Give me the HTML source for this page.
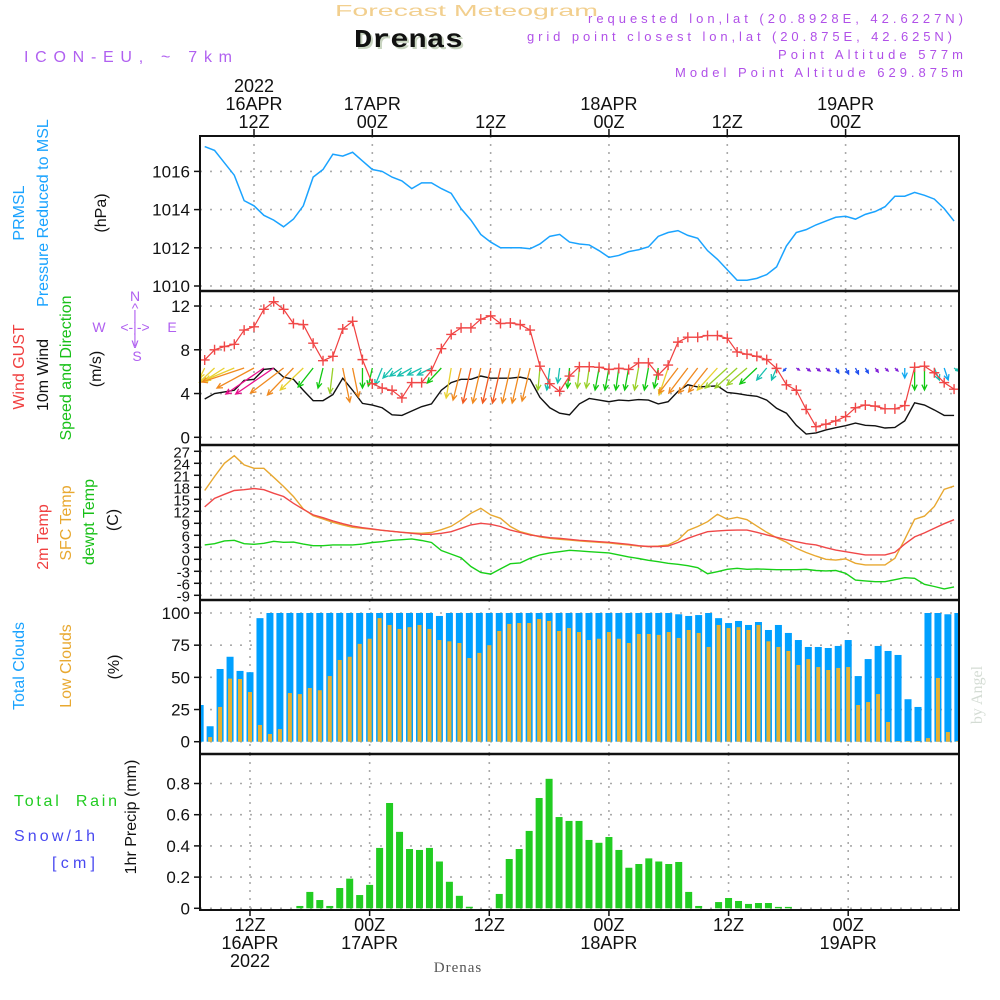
<!DOCTYPE html>
<html><head><meta charset="utf-8">
<style>
html,body{margin:0;padding:0;background:#fff;}
svg{display:block;}
text{font-family:"Liberation Sans",sans-serif;}
</style></head>
<body>
<svg id="chart" xmlns="http://www.w3.org/2000/svg" width="1000" height="1000" viewBox="0 0 1000 1000">
<rect x="0" y="0" width="1000" height="1000" fill="#fff"/>
<text x="335" y="16" textLength="263" lengthAdjust="spacingAndGlyphs" font-size="16" fill="#f2cf8e">Forecast Meteogram</text>
<text x="356" y="49" textLength="109" lengthAdjust="spacingAndGlyphs" font-size="26" font-weight="bold" fill="#c8d4c0" style="font-family:'Liberation Mono',monospace">Drenas</text>
<text x="354" y="47" textLength="109" lengthAdjust="spacingAndGlyphs" font-size="26" font-weight="bold" fill="#111" style="font-family:'Liberation Mono',monospace">Drenas</text>
<text x="24" y="62" textLength="208" lengthAdjust="spacing" font-size="16" fill="#b060f0">ICON-EU, ~ 7km</text>
<text x="588" y="23" textLength="375" lengthAdjust="spacing" font-size="13" fill="#b050e8">requested lon,lat (20.8928E, 42.6227N)</text>
<text x="527" y="41" textLength="425" lengthAdjust="spacing" font-size="13" fill="#b050e8">grid point closest lon,lat (20.875E, 42.625N)</text>
<text x="778" y="59" textLength="185" lengthAdjust="spacing" font-size="13" fill="#b050e8">Point Altitude 577m</text>
<text x="675" y="77" textLength="288" lengthAdjust="spacing" font-size="13" fill="#b050e8">Model Point Altitude 629.875m</text>
<text x="458" y="972" text-anchor="middle" font-size="15" fill="#555" style="font-family:'Liberation Serif',serif;letter-spacing:1px">Drenas</text>
<text transform="translate(982,695) rotate(-90)" text-anchor="middle" font-size="16" fill="#d4dcd4" style="font-family:'Liberation Serif',serif">by Angel</text>
</svg>
<script>
// ---------- data (hourly, 07Z 16APR .. 11Z 19APR; hour offset from 00Z 16APR) ----------
const hourStart = 7;
const pressure = [1017.3,1017.1,1016.45,1015.8,1014.47,1014.2,1013.7,1013.45,1013.1,1013.5,1014.2,1015.7,1016.1,1016.9,1016.8,1017.0,1016.55,1016.1,1016.0,1015.7,1015.5,1015.1,1015.4,1015.4,1015.1,1014.85,1014.05,1013.45,1012.7,1012.3,1012.0,1012.0,1012.0,1011.95,1012.2,1012.6,1012.7,1012.3,1012.2,1012.15,1011.85,1011.5,1011.6,1011.8,1011.9,1012.05,1012.6,1012.8,1012.9,1012.65,1012.5,1011.85,1011.4,1010.85,1010.3,1010.3,1010.4,1010.6,1011.0,1012.1,1012.8,1012.95,1013.2,1013.4,1013.6,1013.65,1013.5,1013.75,1013.9,1014.15,1014.7,1014.7,1014.9,1014.75,1014.55,1014.05,1013.4];
const gust = [7.07,8.0,8.3,8.5,9.8,10.1,11.7,12.4,11.7,10.4,10.3,8.6,7.0,7.4,9.9,10.6,7.1,4.9,4.5,4.3,3.6,5.0,5.0,6.1,8.1,9.4,10.0,10.0,10.8,11.1,10.4,10.45,10.3,9.8,6.5,4.9,4.2,5.6,6.45,6.45,6.4,6.2,6.3,6.2,6.8,6.8,5.7,6.6,8.7,9.15,9.15,9.3,9.3,9.05,7.8,7.6,7.4,7.1,6.3,4.8,4.3,2.55,0.97,1.2,1.5,1.9,2.7,2.95,2.85,2.6,2.6,2.9,6.4,6.5,5.9,5.0,4.4];
const wind10 = [3.5,4.0,4.15,4.3,5.2,5.3,6.2,6.3,5.5,5.3,4.3,3.35,3.35,3.9,5.4,4.3,3.1,2.95,2.7,2.05,2.0,2.4,2.8,3.05,4.3,5.0,5.3,5.3,5.6,5.4,5.4,5.4,5.5,5.3,3.65,2.7,2.2,2.05,3.05,3.55,3.4,3.25,3.4,3.35,3.45,3.4,3.05,3.25,4.2,4.8,4.6,4.65,4.7,4.1,4.0,3.85,3.75,3.4,2.65,2.2,1.1,0.3,0.4,0.67,0.88,1.06,1.3,1.1,1.05,0.85,0.9,1.5,3.15,2.95,2.5,2.0,2.0];
// wind arrow vector components (eastward, northward) in arrow units
const windU = [-5,-15,-22,-29,-42,-37,-38,-38,-33,-26,-23,-15,-5,-3,7,6,0,-4,-7,-9,-12,-14,-14,-14,-14,-5,-8,-8,-8,-8,-8,-8,-8,-8,-2,-3,-2,-2,-2,-3,-4,-4,-3,-4,-4,-4,-4,-9,-19,-19,-19,-19,-20,-22,-22,-20,-17,-10,-5,-3,3,4,4,4,3,3,3,3,3,3,3,0,0,0,5,4,4];
const windV = [-10,-14,-14,-12,-14,-20,-26,-26,-25,-27,-22,-19,-20,-25,-34,-29,-20,-18,-17,-10,-8,-8,-7,-7,-15,-30,-32,-35,-35,-35,-35,-35,-35,-33,-22,-22,-15,-20,-20,-20,-22,-22,-22,-22,-22,-22,-20,-27,-25,-25,-25,-24,-22,-20,-20,-17,-16,-12,-12,-3,-2,-3,-3,-3,-5,-6,-6,-5,-4,-3,-3,-10,-22,-22,-12,-12,-3];
const windCol = "YYYYOOPPOOYGGLOOGGCCCCCCGYORORROOOLCCGLLGGGGLGGYOOOOYLLLGCCBVVVVBBBBVVVSGGCSC";
const t2m = [13.1,15.25,16.25,17.2,17.4,17.7,17.4,16.5,15.7,14.0,12.5,11.1,10.4,9.6,8.9,8.3,7.9,7.6,7.25,7.0,6.75,6.5,6.25,6.25,6.5,6.9,7.75,8.6,9.0,8.75,8.2,7.3,6.7,6.1,5.75,5.4,5.25,5.0,4.75,4.6,4.4,4.25,4.0,3.75,3.4,3.2,3.2,3.3,4.2,5.25,6.1,6.9,7.1,7.25,7.3,7.3,6.75,6.1,5.5,4.9,4.4,3.9,3.6,2.9,2.3,1.9,1.5,1.1,1.1,1.1,1.75,3.8,5.6,6.6,7.75,8.9,9.9];
const tsfc = [17.2,20.7,24.0,25.9,23.6,22.75,22.75,20.5,18.2,15.7,12.6,10.9,10.1,9.25,8.6,8.0,7.75,7.5,7.25,7.0,6.75,6.6,6.5,6.7,7.4,8.25,9.8,11.5,12.75,11.1,10.25,8.2,6.9,6.25,5.6,5.25,5.0,4.8,4.6,4.4,4.25,4.1,3.8,3.6,3.3,3.2,3.3,3.6,4.8,7.2,8.2,9.4,11.25,10.0,10.5,9.9,8.3,6.75,5.4,4.25,2.75,1.7,0.8,0.0,-0.2,0.1,-1.0,-1.4,-1.4,-1.4,0.25,5.0,10.0,10.8,13.2,17.5,18.3];
const dewpt = [3.6,3.9,4.6,4.75,3.9,3.75,4.0,4.5,4.25,4.3,3.8,3.4,3.4,3.6,3.6,3.6,3.8,4.2,4.4,4.75,4.9,5.1,4.7,4.2,2.2,1.3,0.4,-1.8,-3.3,-3.7,-2.4,-1.1,-0.9,0.25,1.1,1.6,1.9,2.25,2.1,1.9,1.75,1.6,1.1,0.6,0.2,-0.25,-0.6,-1.0,-1.25,-1.6,-2.1,-3.6,-3.1,-2.5,-2.25,-2.5,-2.4,-2.5,-2.6,-2.6,-2.6,-2.5,-2.8,-2.9,-2.8,-3.5,-5.2,-5.4,-5.6,-5.6,-5.1,-4.6,-4.75,-6.25,-6.8,-7.4,-6.9];
const totalCloud = [28.5,12,56.5,66,55,54,96,100,100,100,100,100,100,100,100,100,100,100,100,100,100,100,100,100,97.7,100,100,100,100,100,100,100,100,100,100,100,100,100,100,100,100,100,100,100,100,100,100,100,99,97.7,98.4,100,96,92.2,93.8,90.7,93,86.8,90.7,84.5,79,73.6,73.6,72.8,74.4,79,51,64.2,74.4,70.5,67.4,33,27,100,100,99,100];
const lowCloud = [0,3.6,27,49,48.7,38.6,13,6,9.8,37.8,37,41.7,40,51,63.5,66,76,80,96,90.7,87.6,89,90.7,87.6,79,78,76.7,65,69,75,86,91.5,92.2,92.2,95.3,93.8,86,88.3,85.2,79,80,85.2,80,76.7,83.7,83.7,83,85.2,80.6,86.8,84.5,73.6,90.7,88.3,89,86.8,90.7,78,73.6,70.5,59.6,64.2,58,55.7,57.3,58,28.5,30.8,37,15.3,0.5,0.5,0.5,2.8,49.5,7.5,0.5];
const precip = [0,0,0,0,0,0,0,0,0,0,0.015,0.105,0.053,0.015,0.13,0.19,0.085,0.15,0.387,0.675,0.49,0.38,0.374,0.387,0.30,0.17,0.08,0.01,0,0,0.092,0.316,0.38,0.496,0.707,0.83,0.585,0.56,0.56,0.438,0.42,0.457,0.374,0.26,0.284,0.32,0.30,0.284,0.297,0.105,0.015,0,0.04,0.066,0.047,0.028,0.034,0.034,0.009,0.009,0,0,0,0,0,0,0,0,0,0,0,0,0,0,0,0,0];
const pressureTicks = [1010,1012,1014,1016];
const windTicks = [0,4,8,12];
const tempTicks = [27,24,21,18,15,12,9,6,3,0,-3,-6,-9];
const cloudTicks = [0,25,50,75,100];
const precipTicks = [0,0.2,0.4,0.6,0.8];
const precipTickLabels = ["0","0.2","0.4","0.6","0.8"];
const dayHours = [12,24,36,48,60,72];
const topLabels = [["2022","16APR","12Z"],["","17APR","00Z"],["","","12Z"],["","18APR","00Z"],["","","12Z"],["","19APR","00Z"]];
const botLabels = [["12Z","16APR","2022"],["00Z","17APR",""],["12Z","",""],["00Z","18APR",""],["12Z","",""],["00Z","19APR",""]];

// ---------- scales ----------
const L = 200, R = 959;
const xTop = h => 254 + 9.86 * (h - 12);
const xBot = h => 250 + 9.97 * (h - 12);
const yP = p => 286 - 19.1 * (p - 1010);
const yW = v => 437.3 - 10.94 * v;
const yT = t => 559.3 - 4 * t;
const yC = c => 741.7 - 1.287 * c;
const yR = r => 908.3 - 156 * r;
const WIND_BASE = 368;
const colMap = {Y:"#e8d030",O:"#f08a20",R:"#f05a20",P:"#e8108c",G:"#10c810",L:"#98d028",C:"#18c0b0",B:"#2050f0",V:"#8020d8",S:"#10a8f0"};

const NS = "http://www.w3.org/2000/svg";
const svg = document.getElementById("chart");
function mk(tag, attrs, parent) {
  const e = document.createElementNS(NS, tag);
  for (const k in attrs) e.setAttribute(k, attrs[k]);
  (parent || svg).appendChild(e);
  return e;
}
function grp(name) {
  const g = mk("g", {});
  
  
  return g;
}
function txt(parent, x, y, s, attrs) {
  const t = mk("text", Object.assign({x: x, y: y}, attrs || {}), parent);
  t.textContent = s;
  return t;
}

// ---------- panels ----------
const panels = [
  {name:"pressure-panel", top:136, bot:291, xs:xTop, ticks:pressureTicks, labels:pressureTicks.map(String), y:yP},
  {name:"wind-panel", top:291, bot:445, xs:xTop, ticks:windTicks, labels:windTicks.map(String), y:yW},
  {name:"temperature-panel", top:445, bot:600, xs:xTop, ticks:tempTicks, labels:tempTicks.map(String), y:yT},
  {name:"cloud-panel", top:600, bot:754, xs:xBot, ticks:cloudTicks, labels:cloudTicks.map(String), y:yC},
  {name:"precip-panel", top:754, bot:910, xs:xBot, ticks:precipTicks, labels:precipTickLabels, y:yR}
];
panels.forEach(p => {
  const g = grp(p.name + "-grid");
  p.ticks.forEach((t, i) => {
    const yy = p.y(t);
    const gl = mk("line", {x1:L, x2:R, y1:yy, y2:yy, stroke:"#aaa", "stroke-width":1.6, "stroke-dasharray":"2,8"}, g);
    
    
    const tk = mk("line", {x1:194, x2:L, y1:yy, y2:yy, stroke:"#111", "stroke-width":1.5}, g);
    
    
    const lab = txt(g, 190, yy + 6, p.labels[i], {"text-anchor":"end", "font-size": p.name === "temperature-panel" ? 15 : 17, fill:"#111"});
    
    
  });
  dayHours.forEach(h => {
    const xx = p.xs(h);
    const vl = mk("line", {x1:xx, x2:xx, y1:p.top, y2:p.bot, stroke:"#aaa", "stroke-width":1.6, "stroke-dasharray":"2,6"}, g);
    
    
  });
});

// ---------- pressure ----------
const gp = grp("pressure-series");
const ppl = mk("polyline", {points: pressure.map((v,i)=>xTop(hourStart+i)+","+yP(v)).join(" "), fill:"none", stroke:"#1aa3ff", "stroke-width":1.5}, gp);



// ---------- wind ----------
const gw = grp("wind-series");
const wl = mk("polyline", {points: wind10.map((v,i)=>xTop(hourStart+i)+","+yW(v)).join(" "), fill:"none", stroke:"#111", "stroke-width":1.4}, gw);


const ga = grp("wind-arrows");
windU.forEach((u,i) => {
  const x0 = xTop(hourStart+i), y0 = WIND_BASE;
  const x1 = x0 + u, y1 = y0 - windV[i];
  const c = colMap[windCol[i]] || "#10c810";
  const len = Math.hypot(u, windV[i]) || 1;
  const ux = (x1-x0)/len, uy = (y1-y0)/len;
  const hl = Math.min(6, len*0.6);
  const ang = 0.45;
  const ax = x1 - hl*(ux*Math.cos(ang) - uy*Math.sin(ang)), ay = y1 - hl*(uy*Math.cos(ang) + ux*Math.sin(ang));
  const bx = x1 - hl*(ux*Math.cos(-ang) - uy*Math.sin(-ang)), by = y1 - hl*(uy*Math.cos(-ang) + ux*Math.sin(-ang));
  const a = mk("path", {d:`M${x0},${y0}L${x1},${y1}M${ax},${ay}L${x1},${y1}L${bx},${by}`, fill:"none", stroke:c, "stroke-width":1.3}, ga);
  
  
});
const gg = grp("gust-series");
const gl2 = mk("polyline", {points: gust.map((v,i)=>xTop(hourStart+i)+","+yW(v)).join(" "), fill:"none", stroke:"#f04040", "stroke-width":1.2}, gg);


gust.forEach((v,i) => {
  const x = xTop(hourStart+i), y = yW(v);
  const m = mk("path", {d:`M${x-5},${y}H${x+5}M${x},${y-5}V${y+5}`, stroke:"#f04848", "stroke-width":1.4}, gg);
  
  
});

// ---------- temperatures ----------
const gt = grp("temperature-series");
[[tsfc,"#e8a830","sfc-temp-line"],[t2m,"#f04848","temp-2m-line"],[dewpt,"#18d018","dewpoint-line"]].forEach(s => {
  const pl = mk("polyline", {points: s[0].map((v,i)=>xTop(hourStart+i)+","+yT(v)).join(" "), fill:"none", stroke:s[1], "stroke-width":1.4}, gt);
  
  
});

// ---------- clouds ----------
const gc = mk("g", {"clip-path":"url(#cloudclip)"});


const defs = mk("defs", {});
const cp = mk("clipPath", {id:"cloudclip"}, defs);
mk("rect", {x:L+1, y:600, width:R-L-1, height:154}, cp);
totalCloud.forEach((v,i) => {
  const x = xBot(hourStart+i);
  const b = mk("rect", {x:x-3.5, y:yC(v), width:7, height:yC(0)-yC(v), fill:"#00a0ff"}, gc);
  
  
});
lowCloud.forEach((v,i) => {
  const x = xBot(hourStart+i);
  const b = mk("rect", {x:x-2, y:yC(v), width:4, height:yC(0)-yC(v), fill:"#e8b030"}, gc);
  
  
});

// ---------- precip ----------
const gr = grp("precip-bars");
precip.forEach((v,i) => {
  if (v <= 0) return;
  const x = xBot(hourStart+i);
  const b = mk("rect", {x:x-3.5, y:yR(v), width:7, height:yR(0)-yR(v), fill:"#22cc22"}, gr);
  
  
});

// ---------- frames ----------
const gf = grp("panel-frames");
const fr = mk("rect", {x:L, y:136, width:R-L, height:910-136, fill:"none", stroke:"#111", "stroke-width":2}, gf);


[291,445,600,754].forEach(y => {
  const s = mk("line", {x1:L, x2:R, y1:y, y2:y, stroke:"#111", "stroke-width":2.5}, gf);
  
  
});

// ---------- time axes ----------
const gx = grp("top-time-axis");
dayHours.forEach((h,i) => {
  const x = xTop(h);
  const t = mk("line", {x1:x, x2:x, y1:129, y2:136, stroke:"#111", "stroke-width":1.5}, gx);
  
  
  topLabels[i].forEach((s,k) => {
    if (!s) return;
    const l = txt(gx, x, 92 + k*18, s, {"text-anchor":"middle", "font-size":18, fill:"#111"});
    
    
  });
});
const gxb = grp("bottom-time-axis");
dayHours.forEach((h,i) => {
  const x = xBot(h);
  const t = mk("line", {x1:x, x2:x, y1:910, y2:916, stroke:"#111", "stroke-width":1.5}, gxb);
  
  
  botLabels[i].forEach((s,k) => {
    if (!s) return;
    const l = txt(gxb, x, 931 + k*18, s, {"text-anchor":"middle", "font-size":18, fill:"#111"});
    
    
  });
});

// ---------- axis titles (rotated) ----------
const gy = grp("axis-titles");
function rot(x, yc, s, color, size, name) {
  const t = txt(gy, 0, 0, s, {transform:`translate(${x},${yc}) rotate(-90)`, "text-anchor":"middle", "font-size":size, fill:color});
  
  
}
rot(24, 213, "PRMSL", "#1aa3ff", 16, "prmsl-label");
rot(48, 213, "Pressure Reduced to MSL", "#1aa3ff", 16, "pressure-label");
rot(106, 213, "(hPa)", "#111", 16, "hpa-unit-label");
rot(24, 367, "Wind GUST", "#f04040", 16, "gust-label");
rot(48, 375, "10m Wind", "#111", 16, "wind-10m-label");
rot(71, 368, "Speed and Direction", "#18c018", 16, "speed-direction-label");
rot(101, 369, "(m/s)", "#111", 16, "ms-unit-label");
rot(48, 537, "2m Temp", "#f04040", 16, "temp-2m-label");
rot(71, 523, "SFC Temp", "#e8a830", 16, "sfc-temp-label");
rot(94, 522, "dewpt Temp", "#18c018", 16, "dewpt-label");
rot(118, 520, "(C)", "#111", 16, "celsius-unit-label");
rot(24, 666, "Total Clouds", "#1aa3ff", 16, "total-clouds-label");
rot(71, 666, "Low Clouds", "#e8a830", 16, "low-clouds-label");
rot(119, 667, "(%)", "#111", 16, "percent-unit-label");
rot(136, 817, "1hr Precip (mm)", "#111", 16, "precip-unit-label");
const tr = txt(gy, 14, 806, "Total  Rain", {"font-size":16, fill:"#22cc22", textLength:103, lengthAdjust:"spacing", style:"white-space:pre"});


const sn = txt(gy, 14, 841, "Snow/1h", {"font-size":16, fill:"#4848f0", textLength:81, lengthAdjust:"spacing"});


const cm = txt(gy, 52, 868, "[cm]", {"font-size":16, fill:"#4848f0", textLength:43, lengthAdjust:"spacing"});



// ---------- compass ----------
const gk = grp("compass-rose");
[["N",135,301],["^",135,313],["|",135,320],["W",99,332],["<-|->",135,332],["E",172,332],["|",135,343],["v",135,348],["S",137,361]].forEach(c => {
  const t = txt(gk, c[1], c[2], c[0], {"text-anchor":"middle", "font-size":14, fill:"#b060f0"});
  
  
});
</script>
</body></html>
